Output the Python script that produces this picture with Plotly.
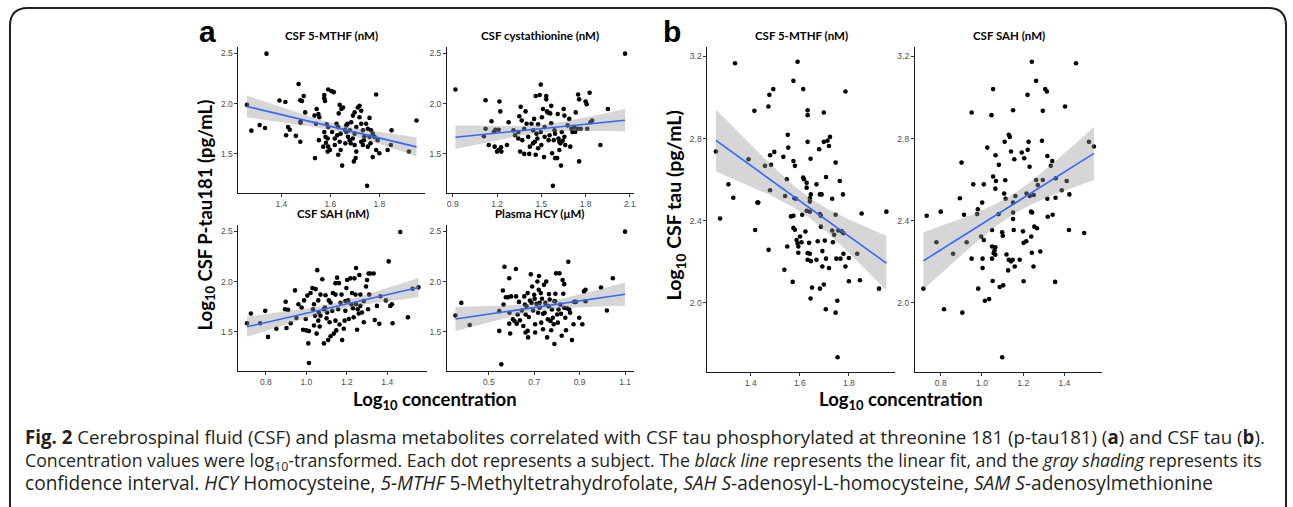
import numpy as np
import plotly.graph_objects as go

W, H = 1293, 507

# ---------------- data ----------------
A_MTHF = [(1.259,1.987),(1.339,2.498),(1.277,1.730),(1.311,1.785),(1.333,1.756),(1.392,2.030),(1.416,2.016),
 (1.419,1.684),(1.427,1.765),(1.434,1.739),(1.459,1.678),(1.470,2.195),(1.477,2.033),(1.484,2.026),(1.491,2.075),
 (1.478,1.821),(1.478,1.808),(1.477,1.619),(1.497,1.912),(1.535,1.880),(1.544,1.945),(1.551,1.896),(1.555,1.863),
 (1.537,1.456),(1.553,1.635),(1.541,1.798),(1.571,1.570),(1.575,2.085),(1.575,2.052),(1.578,2.026),(1.591,2.140),
 (1.605,2.124),(1.614,2.114),(1.585,1.792),(1.591,1.765),(1.575,1.717),(1.580,1.668),(1.589,1.651),(1.582,1.609),
 (1.591,1.570),(1.598,1.537),(1.589,1.521),(1.607,1.717),(1.625,1.798),(1.632,1.765),(1.628,1.684),(1.618,1.651),
 (1.638,1.619),(1.634,1.902),(1.638,1.987),(1.645,1.945),(1.652,1.961),(1.632,1.489),(1.642,1.537),(1.648,1.381),
 (1.659,1.739),(1.665,1.717),(1.670,1.798),(1.679,1.733),(1.672,1.668),(1.661,1.603),(1.683,1.603),(1.685,1.814),
 (1.692,1.880),(1.699,1.912),(1.712,1.961),(1.719,1.977),(1.726,1.928),(1.706,1.765),(1.699,1.700),(1.692,1.651),
 (1.699,1.586),(1.706,1.521),(1.696,1.423),(1.703,1.456),(1.719,1.863),(1.726,1.798),(1.733,1.733),(1.739,1.674),
 (1.737,1.635),(1.733,1.586),(1.746,1.798),(1.753,1.749),(1.760,1.857),(1.766,1.733),(1.760,1.668),(1.764,1.603),
 (1.753,1.570),(1.750,1.179),(1.773,1.466),(1.787,2.091),(1.787,1.537),(1.800,1.505),(1.780,1.668),(1.793,1.635),
 (1.834,1.537),(1.847,1.586),(1.850,1.733),(1.921,1.521),(1.952,1.831),(1.773,1.700),(1.665,1.782),(1.679,1.635),
 (1.618,1.586),(1.726,1.619),(1.642,1.700)]

A_CYST = [(0.918,2.140),(1.111,1.674),(1.122,2.033),(1.122,1.749),(1.162,1.824),(1.178,1.717),(1.189,1.739),
 (1.184,1.570),(1.200,1.521),(1.211,1.537),(1.216,2.020),(1.222,1.922),(1.211,1.739),(1.227,1.564),(1.229,1.521),
 (1.267,1.586),(1.278,1.814),(1.311,1.733),(1.322,1.684),(1.344,1.717),(1.356,1.521),(1.351,1.873),(1.360,1.967),
 (1.367,1.831),(1.371,1.635),(1.384,1.498),(1.384,1.749),(1.393,1.922),(1.400,1.798),(1.411,1.668),(1.418,1.498),
 (1.433,1.798),(1.444,1.733),(1.451,1.847),(1.456,1.619),(1.462,2.075),(1.462,1.489),(1.467,1.700),(1.473,1.651),
 (1.478,1.792),(1.489,2.085),(1.496,2.189),(1.496,1.717),(1.500,1.586),(1.504,1.863),(1.511,1.945),(1.518,1.466),
 (1.522,1.765),(1.522,1.668),(1.533,2.075),(1.533,2.042),(1.538,1.922),(1.544,1.912),(1.549,1.635),(1.556,1.684),
 (1.560,1.902),(1.567,1.977),(1.567,1.804),(1.573,1.505),(1.578,1.179),(1.584,1.635),(1.589,1.733),(1.593,1.700),
 (1.593,1.456),(1.607,1.456),(1.611,1.896),(1.616,1.651),(1.622,1.619),(1.622,1.537),(1.629,1.603),(1.633,1.381),
 (1.638,1.717),(1.644,1.628),(1.651,1.945),(1.656,1.880),(1.656,1.668),(1.662,1.586),(1.678,1.782),(1.689,1.847),
 (1.696,1.570),(1.704,1.749),(1.711,1.717),(1.722,1.765),(1.729,1.717),(1.733,1.912),(1.744,1.749),(1.749,2.091),
 (1.756,2.042),(1.756,1.423),(1.767,1.749),(1.800,2.020),(1.807,1.993),(1.811,1.749),(1.827,2.107),(1.833,1.814),
 (1.844,1.831),(1.951,1.945),(1.900,1.586),(2.067,2.498),(1.422,1.570),(1.478,1.554),(1.444,1.603),(1.344,1.651),
 (1.144,1.586)]

A_SAH = [(0.707,1.584),(0.726,1.682),(0.772,1.584),(0.797,1.708),(0.811,1.448),(0.852,1.529),(0.895,1.724),
 (0.898,1.799),(0.910,1.718),(0.902,1.536),(0.923,1.584),(0.944,1.912),(0.951,1.636),(0.961,1.773),(0.977,1.740),
 (0.984,1.519),(0.989,1.812),(1.000,1.513),(1.005,1.860),(0.997,1.627),(1.013,1.506),(1.010,1.383),(1.013,1.188),
 (1.021,1.886),(1.030,1.935),(1.033,1.724),(1.038,1.773),(1.043,1.659),(1.038,1.562),(1.046,1.925),(1.051,1.481),
 (1.054,2.114),(1.059,1.812),(1.059,1.610),(1.062,1.692),(1.070,1.870),(1.066,1.552),(1.079,2.023),(1.087,1.383),
 (1.087,1.724),(1.092,1.740),(1.095,1.864),(1.100,1.633),(1.103,1.692),(1.108,1.416),(1.111,1.812),(1.115,1.594),
 (1.120,1.789),(1.120,1.455),(1.128,1.708),(1.131,1.886),(1.136,1.481),(1.144,1.870),(1.144,1.984),(1.148,1.513),
 (1.152,2.039),(1.157,1.724),(1.161,1.984),(1.164,1.571),(1.169,1.789),(1.174,1.870),(1.177,1.416),(1.185,1.529),
 (1.189,1.610),(1.193,1.708),(1.198,1.935),(1.202,2.016),(1.207,1.812),(1.210,1.627),(1.218,2.032),(1.223,1.773),
 (1.226,1.886),(1.230,1.734),(1.234,1.643),(1.238,2.032),(1.243,1.870),(1.246,2.136),(1.246,1.773),(1.251,1.519),
 (1.254,1.724),(1.259,1.682),(1.262,2.065),(1.267,1.870),(1.267,1.757),(1.275,1.692),(1.284,1.805),(1.284,1.594),
 (1.295,1.951),(1.300,2.016),(1.305,1.724),(1.308,2.081),(1.311,1.870),(1.316,2.081),(1.333,2.081),(1.338,1.617),
 (1.349,1.757),(1.361,1.578),(1.366,1.854),(1.393,1.812),(1.407,2.201),(1.415,1.757),(1.423,1.773),(1.426,1.584),
 (1.464,2.494),(1.502,1.643),(1.525,1.929),(1.554,1.942),(1.070,1.659),(1.193,1.805),(1.144,1.610)]

A_HCY = [(0.353,1.662),(0.379,1.787),(0.416,1.567),(0.546,1.705),(0.546,1.508),(0.555,1.174),(0.562,1.911),
 (0.569,2.148),(0.565,1.770),(0.575,1.843),(0.584,1.843),(0.590,2.033),(0.591,1.689),(0.590,1.580),(0.594,1.482),
 (0.598,1.852),(0.606,1.623),(0.613,1.607),(0.619,2.125),(0.620,1.852),(0.623,1.580),(0.627,1.672),(0.633,1.797),
 (0.637,1.613),(0.645,1.711),(0.652,1.557),(0.656,1.852),(0.659,1.770),(0.662,1.672),(0.662,1.492),(0.666,1.754),
 (0.671,1.885),(0.671,1.508),(0.673,1.443),(0.676,1.646),(0.681,1.810),(0.685,2.072),(0.688,1.787),(0.691,1.951),
 (0.695,1.711),(0.700,1.869),(0.702,1.829),(0.704,1.574),(0.704,1.492),(0.710,1.777),(0.714,2.000),(0.717,1.689),
 (0.720,1.918),(0.721,2.056),(0.724,1.787),(0.729,1.885),(0.731,1.590),(0.734,1.829),(0.739,1.679),(0.739,1.525),
 (0.743,1.967),(0.746,1.689),(0.749,1.787),(0.753,2.000),(0.757,1.443),(0.760,1.623),(0.763,1.754),(0.765,1.875),
 (0.772,1.607),(0.775,1.515),(0.778,1.721),(0.782,1.639),(0.786,1.574),(0.789,1.377),(0.792,1.803),(0.793,1.879),
 (0.796,2.082),(0.801,1.672),(0.804,1.590),(0.807,1.721),(0.811,2.082),(0.815,1.770),(0.818,1.679),(0.821,1.459),
 (0.825,2.016),(0.828,1.879),(0.832,1.974),(0.832,1.738),(0.837,1.639),(0.840,1.515),(0.844,1.734),(0.850,2.197),
 (0.854,1.721),(0.858,1.689),(0.866,1.416),(0.873,1.574),(0.876,1.797),(0.883,1.797),(0.898,1.639),(0.912,1.574),
 (0.919,1.902),(0.926,1.918),(0.926,1.803),(0.994,1.941),(1.020,1.711),(1.046,2.033),(1.100,2.498),(0.768,1.820),
 (0.724,1.738),(0.789,1.803)]

B_MTHF = [(1.336,3.167),(1.591,3.174),(1.574,3.081),(1.614,3.041),(1.492,3.041),(1.476,3.013),(1.472,2.956),
 (1.415,2.935),(1.632,2.938),(1.632,2.914),(1.698,2.927),(1.786,3.029),(1.551,2.818),(1.632,2.784),(1.698,2.784),
 (1.713,2.789),(1.723,2.808),(1.719,2.764),(1.679,2.748),(1.553,2.756),(1.258,2.737),(1.496,2.735),(1.479,2.719),
 (1.533,2.711),(1.391,2.699),(1.458,2.667),(1.483,2.672),(1.574,2.691),(1.580,2.667),(1.644,2.702),(1.746,2.683),
 (1.614,2.610),(1.617,2.602),(1.547,2.602),(1.628,2.585),(1.628,2.561),(1.668,2.577),(1.707,2.613),(1.763,2.593),
 (1.309,2.577),(1.479,2.548),(1.329,2.512),(1.427,2.488),(1.431,2.488),(1.540,2.520),(1.578,2.509),(1.584,2.507),
 (1.641,2.509),(1.645,2.528),(1.682,2.528),(1.689,2.528),(1.732,2.507),(1.776,2.528),(1.641,2.493),
 (1.275,2.411),(1.418,2.355),(1.610,2.429),(1.574,2.424),(1.564,2.421),(1.628,2.448),(1.641,2.444),(1.682,2.432),
 (1.686,2.424),(1.746,2.429),(1.852,2.435),(1.953,2.444),(1.574,2.365),(1.580,2.356),(1.623,2.347),(1.686,2.371),
 (1.732,2.352),(1.740,2.331),(1.757,2.352),(1.771,2.348),(1.778,2.339),(1.601,2.323),(1.587,2.306),(1.591,2.290),
 (1.594,2.274),(1.638,2.292),(1.673,2.300),(1.735,2.295),(1.549,2.274),(1.473,2.258),(1.594,2.244),(1.632,2.242),
 (1.641,2.239),(1.692,2.252),(1.778,2.239),(1.834,2.239),(1.632,2.210),(1.645,2.203),(1.668,2.210),(1.707,2.215),
 (1.749,2.215),(1.766,2.215),(1.800,2.218),(1.692,2.177),(1.719,2.169),(1.786,2.177),(1.537,2.161),(1.571,2.102),
 (1.800,2.105),(1.845,2.110),(1.650,2.074),(1.682,2.069),(1.698,2.089),(1.923,2.069),(1.644,2.021),(1.753,2.010),
 (1.706,1.969),(1.746,1.952),(1.754,1.735),(1.607,2.295),(1.702,2.303)]

B_SAH = [(1.242,3.174),(1.456,3.167),(1.263,3.081),(1.307,3.041),(1.315,3.029),(1.054,3.041),(1.221,3.013),
 (1.403,2.956),(1.151,2.938),(1.295,2.935),(0.950,2.927),(1.046,2.914),(1.130,2.818),(1.135,2.808),(1.110,2.784),
 (1.226,2.784),(1.291,2.789),(1.519,2.784),(1.543,2.761),(1.026,2.756),(1.193,2.732),(1.222,2.745),(1.141,2.737),
 (1.066,2.719),(1.317,2.715),(1.157,2.699),(1.205,2.704),(0.901,2.683),(1.341,2.691),(1.334,2.667),(1.082,2.672),
 (1.231,2.663),(1.054,2.615),(1.068,2.593),(1.113,2.597),(1.263,2.598),(1.295,2.598),(1.358,2.607),(1.411,2.593),
 (0.958,2.577),(1.009,2.577),(1.065,2.556),(1.271,2.574),(1.387,2.548),(1.108,2.532),(1.216,2.532),(1.232,2.520),
 (1.251,2.525),(1.424,2.528),(0.893,2.509),(1.115,2.507),(1.317,2.507),(1.357,2.512),(1.162,2.520),(1.151,2.488),
 (1.001,2.488),
 (0.732,2.424),(0.800,2.444),(0.913,2.429),(0.977,2.432),(0.980,2.456),(1.081,2.432),(1.151,2.440),(1.151,2.408),
 (1.238,2.444),(1.243,2.440),(1.319,2.419),(1.343,2.429),(0.716,2.069),(0.779,2.295),(0.860,2.239),(0.926,2.295),
 (0.950,2.215),(0.996,2.323),(1.009,2.306),(1.003,2.215),(1.003,2.169),(0.982,2.069),(1.014,2.010),(1.035,2.018),
 (1.049,2.355),(1.049,2.274),(1.049,2.215),(1.052,2.106),(1.057,2.242),(1.061,2.255),(1.065,2.234),(1.065,2.271),
 (1.098,2.344),(1.101,2.327),(1.086,2.077),(1.103,2.085),(1.119,2.235),(1.130,2.210),(1.127,2.158),(1.141,2.202),
 (1.149,2.210),(1.154,2.355),(1.159,2.177),(1.183,2.210),(1.199,2.348),(1.202,2.105),(1.202,2.292),(1.215,2.300),
 (1.239,2.323),(1.242,2.244),(1.250,2.177),(1.254,2.371),(1.267,2.363),(1.283,2.250),(1.355,2.102),(1.422,2.355),
 (1.496,2.340),(1.098,1.735),(0.816,1.969),(0.905,1.952)]

PANEL_TITLES = ["CSF 5-MTHF (nM)", "CSF cystathionine (nM)", "CSF SAH (nM)", "Plasma HCY (μM)",
                "CSF 5-MTHF (nM)", "CSF SAH (nM)"]
X_TICKS = [[1.4, 1.6, 1.8], [0.9, 1.2, 1.5, 1.8, 2.1], [0.8, 1.0, 1.2, 1.4], [0.5, 0.7, 0.9, 1.1],
           [1.4, 1.6, 1.8], [0.8, 1.0, 1.2, 1.4]]
Y_TICKS_A = [1.5, 2.0, 2.5]
Y_TICKS_B = [2.0, 2.4, 2.8, 3.2]

# ---------------- layout geometry (pixels) ----------------
BOXES = [  # x0, x1, ytop, ybottom
    (239, 426, 47, 193), (448, 635, 47, 193),
    (239, 428, 225, 371), (448, 635, 225, 371),
    (709, 897, 47, 372), (917, 1105, 47, 372),
]
PANELS = [A_MTHF, A_CYST, A_SAH, A_HCY, B_MTHF, B_SAH]
GROUP = ["a", "a", "a", "a", "b", "b"]

def px(x):
    return x / W

def py(y):
    return 1 - y / H

def expand(lo, hi, f=0.05):
    s = hi - lo
    return [lo - f * s, hi + f * s]

ya = np.concatenate([np.array(p)[:, 1] for p in PANELS[:4]])
yb = np.concatenate([np.array(p)[:, 1] for p in PANELS[4:]])
YR = {"a": expand(ya.min(), ya.max()), "b": expand(yb.min(), yb.max())}

T975 = 1.98
fig = go.Figure()
TICKFONT = dict(family="Liberation Sans", size=8.5, color="#4D4D4D")

for i, pts in enumerate(PANELS):
    arr = np.array(pts)
    x, y = arr[:, 0], arr[:, 1]
    k = "" if i == 0 else str(i + 1)
    xa, yax = "x" + k, "y" + k
    fig.add_trace(go.Scatter(x=x, y=y, mode="markers", xaxis=xa, yaxis=yax,
                             marker=dict(color="black", size=4.6), showlegend=False, hoverinfo="skip"))
    n = len(x)
    b, a = np.polyfit(x, y, 1)
    res = y - (a + b * x)
    s = np.sqrt((res ** 2).sum() / (n - 2))
    xm = x.mean()
    sxx = ((x - xm) ** 2).sum()
    xg = np.linspace(x.min(), x.max(), 80)
    yg = a + b * xg
    se = s * np.sqrt(1 / n + (xg - xm) ** 2 / sxx)
    fig.add_trace(go.Scatter(x=xg, y=yg - T975 * se, mode="lines", line=dict(width=0), xaxis=xa, yaxis=yax,
                             showlegend=False, hoverinfo="skip"))
    fig.add_trace(go.Scatter(x=xg, y=yg + T975 * se, mode="lines", line=dict(width=0), fill="tonexty",
                             fillcolor="rgba(153,153,153,0.4)", xaxis=xa, yaxis=yax,
                             showlegend=False, hoverinfo="skip"))
    fig.add_trace(go.Scatter(x=xg, y=yg, mode="lines", line=dict(color="#3366FF", width=1.6),
                             xaxis=xa, yaxis=yax, showlegend=False, hoverinfo="skip"))

    x0, x1, yt, yb_ = BOXES[i]
    common = dict(showline=True, linecolor="#1a1a1a", linewidth=1, ticks="outside", ticklen=3,
                  tickcolor="#333333", tickwidth=1, showgrid=False, zeroline=False, tickfont=TICKFONT)
    yt_vals = Y_TICKS_A if GROUP[i] == "a" else Y_TICKS_B
    fig.update_layout(**{
        "xaxis" + k: dict(domain=[px(x0), px(x1)], anchor=yax, range=expand(x.min(), x.max()),
                          tickvals=X_TICKS[i], ticktext=[f"{t:.1f}" for t in X_TICKS[i]], **common),
        "yaxis" + k: dict(domain=[py(yb_), py(yt)], anchor=xa, range=YR[GROUP[i]],
                          tickvals=yt_vals, ticktext=[f"{t:.1f}" for t in yt_vals], **common),
    })
    fig.add_annotation(text=PANEL_TITLES[i], x=px((x0 + x1) / 2), y=py(yt - 3), xref="paper", yref="paper",
                       xanchor="center", yanchor="bottom", showarrow=False,
                       font=dict(family="Lato", size=11.5, color="black", weight="bold"))

TITLE_FONT = dict(family="Lato", size=18.5, color="black", weight="bold")
ann = [
    dict(text="a", x=px(197), y=py(50), xanchor="left", yanchor="bottom",
         font=dict(family="Liberation Sans", size=30, color="black", weight="bold")),
    dict(text="b", x=px(663), y=py(50), xanchor="left", yanchor="bottom",
         font=dict(family="Liberation Sans", size=30, color="black", weight="bold")),
    dict(text="Log<sub>10</sub> CSF P-tau181 (pg/mL)", x=px(207), y=py(215), textangle=-90,
         xanchor="center", yanchor="middle", font=TITLE_FONT),
    dict(text="Log<sub>10</sub> CSF tau (pg/mL)", x=px(677), y=py(205), textangle=-90,
         xanchor="center", yanchor="middle", font=dict(TITLE_FONT, size=19.5)),
    dict(text="Log<sub>10</sub> concentration", x=px(436), y=py(400), xanchor="center", yanchor="middle",
         font=TITLE_FONT),
    dict(text="Log<sub>10</sub> concentration", x=px(903), y=py(400), xanchor="center", yanchor="middle",
         font=TITLE_FONT),
]
CAPTION = [
    "<b>Fig. 2</b> Cerebrospinal fluid (CSF) and plasma metabolites correlated with CSF tau phosphorylated at "
    "threonine 181 (p-tau181) (<b>a</b>) and CSF tau (<b>b</b>).",
    "Concentration values were log<sub>10</sub>-transformed. Each dot represents a subject. The <i>black line</i> "
    "represents the linear fit, and the <i>gray shading</i> represents its",
    "confidence interval. <i>HCY</i> Homocysteine, <i>5-MTHF</i> 5-Methyltetrahydrofolate, <i>SAH S</i>-adenosyl-"
    "L-homocysteine, <i>SAM S</i>-adenosylmethionine",
]
CAP_SIZES = [18.7, 17.7, 19.1]
cap_text = "<br>".join(f'<span style="font-size:{s}px">{t}</span>' for t, s in zip(CAPTION, CAP_SIZES))
ann.append(dict(text=cap_text, x=px(23), y=py(460), xanchor="left", yanchor="middle", align="left",
                font=dict(family="Open Sans", size=17.7, color="#231F20")))
for a_ in ann:
    fig.add_annotation(xref="paper", yref="paper", showarrow=False, **a_)

# rounded frame
rx, ry = 18 / W, 18 / H
X0, X1, YT, YB = px(10), px(1289), py(8), -0.1
path = (f"M {X0},{YB} L {X0},{YT - ry} Q {X0},{YT} {X0 + rx},{YT} L {X1 - rx},{YT} "
        f"Q {X1},{YT} {X1},{YT - ry} L {X1},{YB}")
fig.add_shape(type="path", path=path, xref="paper", yref="paper", line=dict(color="#231F20", width=2))

fig.update_layout(width=W, height=H, margin=dict(l=0, r=0, t=0, b=0),
                  paper_bgcolor="white", plot_bgcolor="white")
fig.write_html("out.html", config={"displayModeBar": False},
               post_script="document.body.style.margin='0';document.body.style.overflow='hidden';")
